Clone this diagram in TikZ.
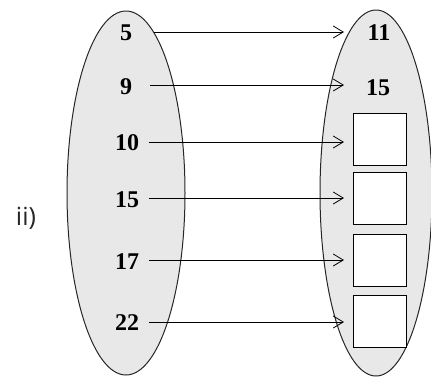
\documentclass[tikz,border=0pt]{standalone}
\usepackage{fontspec}
\setmainfont{Liberation Serif}
\newfontfamily\labfont{Open Sans}
\usetikzlibrary{arrows.meta}
\begin{document}
\begin{tikzpicture}[x=1pt,y=-1pt,
  setell/.style={draw=black!85,line width=1pt,fill=gray!18},
  num/.style={font=\fontsize{24}{24}\selectfont\bfseries,inner sep=0pt},
  slot/.style={draw=black,line width=0.8pt,fill=white,minimum width=53pt,minimum height=52pt,inner sep=0pt},
  maparrow/.style={-{Straight Barb[length=10pt,width=12pt,line width=0.8pt]},line width=0.8pt}]
\useasboundingbox (0,0) rectangle (431,376);
\draw[setell] (126,193) ellipse [x radius=59, y radius=182];
\draw[setell] (376,193) ellipse [x radius=56, y radius=183];
\node[font=\labfont\fontsize{25}{25}\selectfont,text=black!85] (lab) at (26,218) {ii)};
% left set
\node[num] (a1) at (126,33) {5};
\node[num] (a2) at (126,87) {9};
\node[num] (a3) at (127,143) {10};
\node[num] (a4) at (127,200) {15};
\node[num] (a5) at (127,262) {17};
\node[num] (a6) at (127,323) {22};
% right set
\node[num] (b1) at (379,33) {11};
\node[num] (b2) at (378,88) {15};
\node[slot] (b3) at (380,139) {};
\node[slot] (b4) at (380,198) {};
\node[slot] (b5) at (380,260) {};
\node[slot] (b6) at (380,321) {};
% arrow endpoints
\coordinate (e1) at (344,32);
\coordinate (e2) at (344,85);
\coordinate (e3) at (344,142);
\coordinate (e4) at (344,198);
\coordinate (e5) at (344,260);
\coordinate (e6) at (344,322);
\draw[maparrow] (a1.east) ++(22,-1) -- (e1);
\draw[maparrow] (a2.east) ++(18,-2) -- (e2);
\draw[maparrow] (a3.east) ++(10,-1) -- (e3);
\draw[maparrow] (a4.east) ++(10,-2) -- (e4);
\draw[maparrow] (a5.east) ++(10,-2) -- (e5);
\draw[maparrow] (a6.east) ++(10,-1) -- (e6);
\end{tikzpicture}
\end{document}
